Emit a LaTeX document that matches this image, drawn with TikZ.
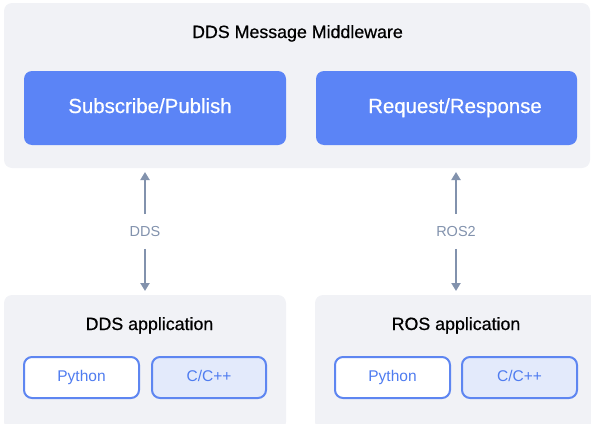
\documentclass[tikz,border=0pt]{standalone}
\usepackage{fontspec}
\setmainfont{Liberation Sans}
\newfontfamily\medfont[FakeBold=0.6]{Liberation Sans}
\usetikzlibrary{arrows.meta}
\definecolor{panelbg}{HTML}{F1F2F6}
\definecolor{mainblue}{HTML}{5B84F6}
\definecolor{edgeblue}{HTML}{5E86F1}
\definecolor{lightblue}{HTML}{E3EAFB}
\definecolor{langtext}{HTML}{4F7CF0}
\definecolor{linkgray}{HTML}{8292AD}
\tikzset{
  panel/.style={fill=panelbg, draw=none, rounded corners=8pt},
  service/.style={fill=mainblue, draw=none, rounded corners=8pt},
  servicetext/.style={text=white, anchor=base, font=\medfont\fontsize{20.4}{24}\selectfont},
  langbox/.style={draw=edgeblue, line width=2pt, rounded corners=8pt,
    text=langtext, font=\fontsize{15.5}{18}\selectfont,
    text height=11pt, text depth=3.5pt, minimum height=41pt},
  heading/.style={text=black, anchor=base, font=\medfont\fontsize{17.8}{21}\selectfont},
  link/.style={draw=linkgray, line width=2pt, -{Triangle[width=9pt,length=8pt]}},
  linklabel/.style={text=linkgray, font=\fontsize{14.5}{17}\selectfont, inner sep=0pt}
}
\begin{document}
\begin{tikzpicture}[x=1pt, y=-1pt]
  \useasboundingbox (0,0) rectangle (591,423);
  \clip (0,0) rectangle (591,423);

  % middleware panel
  \path[panel] (4,3) rectangle (590,168);
  \node[heading] (mw) at (297.5,38) {DDS Message Middleware};
  \path[service] (24,71) rectangle (286,145);
  \node[servicetext] (sub) at (150,113) {Subscribe/Publish};
  \path[service] (316,71) rectangle (577,145);
  \node[servicetext] (req) at (455,113) {Request/Response};

  % application panels
  \path[panel] (4,295) rectangle (286,430);
  \node[heading] (ddsapp) at (149.5,330) {DDS application};
  \node[langbox, fill=white, minimum width=115pt] (py1) at (81.5,377.5) {Python};
  \node[langbox, fill=lightblue, minimum width=114pt] (cc1) at (209,377.5) {C/C++};

  \path[panel] (315,295) rectangle (600,430);
  \node[heading] (rosapp) at (456,330) {ROS application};
  \node[langbox, fill=white, minimum width=115pt] (py2) at (392.5,377.5) {Python};
  \node[langbox, fill=lightblue, minimum width=115pt] (cc2) at (519.5,377.5) {C/C++};

  % links between layers
  \node[linklabel] (dds) at (145,231.5) {DDS};
  \node[linklabel] (ros) at (456,231.5) {ROS2};
  \coordinate (ddsTop) at (145,172);
  \coordinate (ddsBot) at (145,291);
  \coordinate (rosTop) at (456,172);
  \coordinate (rosBot) at (456,291);
  \draw[link] (dds.north) ++(0,-12) -- (ddsTop);
  \draw[link] (dds.south) ++(0,12) -- (ddsBot);
  \draw[link] (ros.north) ++(0,-12) -- (rosTop);
  \draw[link] (ros.south) ++(0,12) -- (rosBot);
\end{tikzpicture}
\end{document}
